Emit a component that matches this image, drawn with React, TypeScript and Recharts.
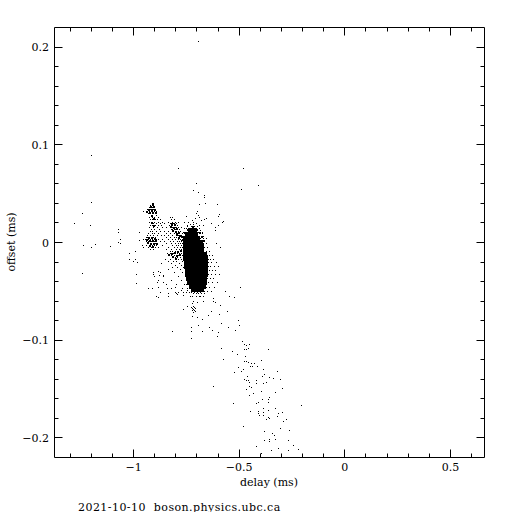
// Delay / offset scatter, boson.physics.ubc.ca
import { ScatterChart, Scatter, XAxis, YAxis } from 'recharts'

const FONT = '"DejaVu Serif", serif'

const majorX = [-1, -0.5, 0, 0.5]
const minorX = [-1.3, -1.2, -1.1, -0.9, -0.8, -0.7, -0.6, -0.4, -0.3, -0.2, -0.1, 0.1, 0.2, 0.3, 0.4, 0.6]
const majorY = [-0.2, -0.1, 0, 0.1, 0.2]
const minorY = [-0.18, -0.16, -0.14, -0.12, -0.08, -0.06, -0.04, -0.02, 0.02, 0.04, 0.06, 0.08, 0.12, 0.14, 0.16, 0.18]

const title = '2021-10-10  boson.physics.ubc.ca'

// solid middle of the blob: [offset, delays]
const coreRows: [number, number[]][] = [
  [0.0123, [-0.732, -0.713]],
  [0.0082, [-0.746, -0.727, -0.708]],
  [0.0041, [-0.756, -0.737, -0.718, -0.699]],
  [0, [-0.756, -0.737, -0.718, -0.699, -0.685]],
  [-0.0041, [-0.756, -0.737, -0.718, -0.699, -0.68]],
  [-0.0082, [-0.756, -0.737, -0.718, -0.699, -0.68]],
  [-0.0123, [-0.756, -0.737, -0.718, -0.699, -0.68, -0.666]],
  [-0.0164, [-0.756, -0.737, -0.718, -0.699, -0.68, -0.661]],
  [-0.0205, [-0.751, -0.732, -0.713, -0.694, -0.675, -0.661]],
  [-0.0246, [-0.751, -0.732, -0.713, -0.694, -0.675, -0.661]],
  [-0.0287, [-0.746, -0.727, -0.708, -0.69, -0.671, -0.661]],
  [-0.0328, [-0.746, -0.727, -0.708, -0.69, -0.671, -0.661]],
  [-0.0369, [-0.742, -0.723, -0.704, -0.685, -0.666]],
  [-0.041, [-0.737, -0.718, -0.699, -0.68, -0.666]],
  [-0.0451, [-0.727, -0.708, -0.69, -0.671]],
  [-0.0482, [-0.718, -0.699, -0.68]],
]

// tight clumps that read as solid patches: [delay, offset]
const clumpPoints: [number, number][] = [
  [-0.912, 0.04], [-0.922, 0.037], [-0.908, 0.037], [-0.931, 0.034], [-0.917, 0.034], [-0.903, 0.034],
  [-0.941, 0.032], [-0.926, 0.031], [-0.912, 0.031], [-0.898, 0.031], [-0.917, 0.028], [-0.908, 0.025],
  [-0.917, 0.021], [-0.908, 0.017],
  [-0.931, 0.005], [-0.917, 0.005], [-0.941, 0.003], [-0.926, 0.002], [-0.912, 0.002], [-0.898, 0.002],
  [-0.936, 0], [-0.922, -0.001], [-0.908, -0.001], [-0.893, -0.001], [-0.926, -0.003], [-0.912, -0.004],
  [-0.903, 0.004],
  [-0.822, 0.019], [-0.808, 0.018], [-0.827, 0.016], [-0.813, 0.015], [-0.798, 0.014], [-0.817, 0.012],
  [-0.803, 0.011], [-0.789, 0.01], [-0.798, 0.008], [-0.784, 0.007], [-0.789, 0.005], [-0.775, 0.006],
  [-0.836, -0.012], [-0.822, -0.011], [-0.808, -0.01], [-0.817, -0.014], [-0.798, -0.013], [-0.784, -0.012],
  [-0.794, -0.009], [-0.803, -0.016], [-0.78, -0.008],
  [-0.77, 0.006], [-0.761, 0.01], [-0.746, 0.013], [-0.723, 0.016], [-0.704, 0.013], [-0.69, 0.01],
  [-0.68, 0.006], [-0.671, 0.002],
]

// scattered samples around the blob, one row per offset: [offset, delays]
const clusterRows: [number, number[]][] = [
  [0.04, [-0.912]],
  [0.038, [-0.922, -0.912, -0.908]],
  [0.036, [-0.926, -0.917, -0.912, -0.903]],
  [0.034, [-0.936, -0.931, -0.922, -0.912, -0.908, -0.898]],
  [0.032, [-0.941, -0.936, -0.926, -0.917, -0.912, -0.903, -0.893]],
  [0.03, [-0.931, -0.922, -0.912, -0.908, -0.898]],
  [0.028, [-0.917, -0.912, -0.893]],
  [0.026, [-0.926, -0.912, -0.903, -0.884, -0.827, -0.817]],
  [0.024, [-0.922, -0.912, -0.898, -0.889, -0.874, -0.822, -0.808]],
  [0.021, [-0.926, -0.912, -0.903, -0.884, -0.865, -0.836, -0.817, -0.803, -0.789]],
  [0.019, [-0.917, -0.908, -0.893, -0.874, -0.855, -0.827, -0.822, -0.813, -0.808, -0.798]],
  [0.017, [-0.922, -0.912, -0.898, -0.884, -0.87, -0.832, -0.822, -0.817, -0.808, -0.803, -0.794]],
  [0.015, [-0.926, -0.908, -0.889, -0.865, -0.846, -0.827, -0.817, -0.813, -0.803, -0.798, -0.789, -0.775]],
  [0.013, [-0.917, -0.903, -0.879, -0.822, -0.817, -0.808, -0.803, -0.794, -0.784]],
  [0.011, [-0.922, -0.912, -0.893, -0.874, -0.855, -0.836, -0.813, -0.803, -0.798, -0.789, -0.78]],
  [0.009, [-0.931, -0.912, -0.903, -0.884, -0.846, -0.827, -0.808, -0.798, -0.794, -0.784, -0.77]],
  [0.007, [-0.936, -0.922, -0.908, -0.889, -0.87, -0.855, -0.836, -0.817, -0.794, -0.789, -0.78, -0.775]],
  [0.005, [-0.941, -0.936, -0.926, -0.917, -0.908, -0.898, -0.846, -0.827, -0.808, -0.798, -0.784, -0.775, -0.765]],
  [0.003, [-0.945, -0.936, -0.931, -0.922, -0.912, -0.903, -0.893, -0.884, -0.865, -0.836, -0.817, -0.803, -0.789, -0.78, -0.77]],
  [0.001, [-0.941, -0.931, -0.926, -0.917, -0.912, -0.903, -0.898, -0.874, -0.855, -0.827, -0.813, -0.794, -0.784, -0.775, -0.765]],
  [-0.001, [-0.936, -0.931, -0.922, -0.917, -0.908, -0.898, -0.889, -0.846, -0.822, -0.803, -0.789, -0.78, -0.77]],
  [-0.003, [-0.941, -0.926, -0.922, -0.912, -0.903, -0.893, -0.865, -0.817, -0.798, -0.789, -0.775, -0.765]],
  [-0.005, [-0.931, -0.917, -0.898, -0.884, -0.836, -0.808, -0.794, -0.78, -0.77]],
  [-0.007, [-0.922, -0.908, -0.846, -0.822, -0.798, -0.784, -0.775]],
  [-0.009, [-0.827, -0.817, -0.803, -0.789, -0.78, -0.765]],
  [-0.011, [-0.841, -0.827, -0.813, -0.803, -0.794, -0.784, -0.775]],
  [-0.013, [-0.836, -0.822, -0.808, -0.798, -0.789, -0.78, -0.77]],
  [-0.015, [-0.817, -0.803, -0.794, -0.78, -0.765]],
  [-0.017, [-0.851, -0.827, -0.789, -0.775]],
  [-0.019, [-0.836, -0.813, -0.798, -0.77]],
  [-0.022, [-0.87, -0.822, -0.784]],
  [-0.024, [-0.803, -0.775]],
  [-0.026, [-0.817, -0.794, -0.765]],
  [-0.028, [-0.836, -0.78]],
  [-0.031, [-0.874, -0.808, -0.77]],
  [-0.035, [-0.903, -0.86, -0.789]],
  [-0.039, [-0.884, -0.822, -0.775]],
  [-0.043, [-0.846, -0.798, -0.761, -0.751, -0.742]],
  [-0.047, [-0.912, -0.822, -0.77, -0.746, -0.737]],
  [-0.051, [-0.874, -0.789, -0.751, -0.737, -0.727, -0.713, -0.699, -0.685]],
  [-0.055, [-0.893, -0.836, -0.723, -0.704, -0.685]],
  // top and bottom fringe of the blob
  [0.018, [-0.732, -0.718]],
  [0.016, [-0.746, -0.727, -0.713, -0.699]],
  [0.014, [-0.761, -0.751, -0.742, -0.704, -0.69]],
  [0.01, [-0.765, -0.756, -0.694, -0.685, -0.675]],
  [0.006, [-0.77, -0.765, -0.69, -0.68, -0.671]],
  [0.002, [-0.775, -0.77, -0.675, -0.666]],
  [-0.052, [-0.718, -0.704, -0.694, -0.68, -0.666]],
  [-0.055, [-0.732, -0.69, -0.671]],
  // right edge of the blob
  [0.004, [-0.685, -0.671, -0.656]],
  [-0.001, [-0.671, -0.656, -0.609]],
  [-0.005, [-0.666, -0.652, -0.59]],
  [-0.009, [-0.656, -0.642]],
  [-0.013, [-0.652, -0.642, -0.628]],
  [-0.017, [-0.647, -0.637, -0.623]],
  [-0.021, [-0.647, -0.633, -0.609]],
  [-0.025, [-0.647, -0.637, -0.618, -0.599]],
  [-0.029, [-0.642, -0.628, -0.614]],
  [-0.033, [-0.647, -0.633, -0.614, -0.595]],
  [-0.037, [-0.652, -0.637, -0.623]],
  [-0.041, [-0.656, -0.647, -0.628, -0.604]],
  [-0.046, [-0.656, -0.642, -0.618, -0.495]],
  [-0.05, [-0.666, -0.652, -0.633, -0.566]],
]

const sparsePoints: [number, number][] = [
  // far left
  [-1.2, 0.089], [-1.201, 0.041], [-1.243, 0.03], [-1.282, 0.019], [-1.206, 0.017], [-1.073, 0.013],
  [-1.073, 0.01], [-1.064, 0.003], [-1.073, 0], [-1.064, -0.001], [-1.235, -0.003], [-1.197, -0.005],
  [-1.182, -0.002], [-1.111, -0.004], [-1.021, -0.011], [-0.993, -0.009], [-1.021, -0.017], [-1.002, -0.019],
  [-0.993, -0.017], [-0.983, -0.021], [-1.243, -0.032], [-0.986, -0.033], [-0.988, -0.042], [-0.974, 0.01],
  [-0.974, 0.002], [-0.955, 0.003], [-0.96, -0.003], [-0.955, -0.005], [-0.955, 0.032],
  [-0.908, -0.031], [-0.908, -0.033], [-0.884, -0.03], [-0.879, -0.034], [-0.86, -0.034], [-0.889, -0.041],
  [-0.86, -0.041], [-0.931, -0.047], [-0.884, -0.046], [-0.841, -0.047], [-0.836, -0.052], [-0.884, -0.056],
  [-0.803, -0.051], [-0.765, -0.051],
  // above the blob
  [-0.694, 0.206], [-0.789, 0.076], [-0.481, 0.076], [-0.491, 0.054], [-0.41, 0.058],
  [-0.702, 0.061], [-0.716, 0.053], [-0.693, 0.051], [-0.664, 0.048], [-0.664, 0.046], [-0.688, 0.039],
  [-0.66, 0.04], [-0.603, 0.039], [-0.697, 0.032], [-0.702, 0.03], [-0.693, 0.028], [-0.688, 0.026],
  [-0.707, 0.025], [-0.593, 0.029], [-0.598, 0.027], [-0.664, 0.024], [-0.655, 0.025], [-0.678, 0.023],
  [-0.574, 0.022], [-0.579, 0.02], [-0.598, 0.017], [-0.631, 0.019], [-0.612, 0.015], [-0.612, 0.012],
  [-0.75, 0.027], [-0.759, 0.021], [-0.74, 0.02], [-0.721, 0.023], [-0.716, 0.02], [-0.702, 0.019],
  [-0.745, 0.017], [-0.712, 0.016], [-0.688, 0.017], [-0.669, 0.017], [-0.683, 0.012], [-0.674, 0.009],
  // just under the blob
  [-0.816, -0.091], [-0.726, -0.087], [-0.726, -0.091], [-0.726, -0.098], [-0.693, -0.085], [-0.674, -0.079],
  [-0.674, -0.091], [-0.641, -0.087], [-0.626, -0.09], [-0.584, -0.083], [-0.551, -0.087], [-0.598, -0.092],
  [-0.603, -0.096], [-0.517, -0.09], [-0.503, -0.08], [-0.498, -0.085], [-0.555, -0.071], [-0.546, -0.055],
  [-0.522, -0.056], [-0.622, -0.06], [-0.622, -0.057], [-0.612, -0.062], [-0.588, -0.065], [-0.631, -0.071],
  [-0.645, -0.075], [-0.593, -0.074], [-0.764, -0.069], [-0.745, -0.066], [-0.721, -0.063], [-0.716, -0.06],
  [-0.697, -0.062], [-0.669, -0.061], [-0.721, -0.076], [-0.697, -0.077], [-0.792, -0.053], [-0.764, -0.054],
  [-0.745, -0.049], [-0.773, -0.049], [-0.802, -0.046], [-0.797, -0.052],
  [-0.726, -0.067], [-0.721, -0.068], [-0.716, -0.069], [-0.712, -0.067], [-0.707, -0.068], [-0.716, -0.066],
  [-0.712, -0.07], [-0.721, -0.07], [-0.707, -0.071], [-0.716, -0.072],
  // tail down to the right
  [-0.484, -0.102], [-0.475, -0.105], [-0.451, -0.105], [-0.465, -0.106], [-0.475, -0.11], [-0.465, -0.11],
  [-0.456, -0.109], [-0.361, -0.11], [-0.584, -0.109], [-0.532, -0.112], [-0.508, -0.115], [-0.47, -0.117],
  [-0.574, -0.12], [-0.475, -0.122], [-0.465, -0.122], [-0.456, -0.123], [-0.442, -0.124], [-0.427, -0.124],
  [-0.437, -0.127], [-0.446, -0.127], [-0.413, -0.127], [-0.394, -0.121], [-0.385, -0.13], [-0.503, -0.128],
  [-0.479, -0.13], [-0.489, -0.132], [-0.522, -0.133], [-0.318, -0.132], [-0.38, -0.135], [-0.389, -0.137],
  [-0.46, -0.137], [-0.356, -0.138], [-0.337, -0.139], [-0.304, -0.14], [-0.475, -0.141], [-0.465, -0.142],
  [-0.456, -0.142], [-0.451, -0.144], [-0.418, -0.142], [-0.418, -0.145], [-0.385, -0.145], [-0.37, -0.144],
  [-0.622, -0.148], [-0.451, -0.148], [-0.442, -0.149], [-0.465, -0.151], [-0.295, -0.15], [-0.394, -0.153],
  [-0.328, -0.154], [-0.432, -0.155], [-0.451, -0.157], [-0.356, -0.159], [-0.361, -0.161], [-0.389, -0.161],
  [-0.527, -0.165], [-0.408, -0.164], [-0.418, -0.165], [-0.361, -0.164], [-0.385, -0.17], [-0.328, -0.17],
  [-0.361, -0.172], [-0.446, -0.173], [-0.408, -0.173], [-0.408, -0.175], [-0.385, -0.174], [-0.295, -0.174],
  [-0.404, -0.177], [-0.385, -0.177], [-0.313, -0.175], [-0.318, -0.178], [-0.361, -0.179], [-0.356, -0.18],
  [-0.37, -0.182], [-0.276, -0.182], [-0.29, -0.184], [-0.204, -0.167], [-0.479, -0.189], [-0.304, -0.191],
  [-0.261, -0.193], [-0.38, -0.194], [-0.342, -0.196], [-0.332, -0.198], [-0.356, -0.202], [-0.38, -0.203],
  [-0.356, -0.204], [-0.328, -0.202], [-0.266, -0.203], [-0.418, -0.209], [-0.242, -0.208], [-0.313, -0.211],
  [-0.219, -0.212], [-0.347, -0.213], [-0.266, -0.213], [-0.394, -0.216],
]

const coreData = coreRows.flatMap(([offset, delays]) => delays.map((delay) => ({ delay, offset })))
const clumpData = clumpPoints.map(([delay, offset]) => ({ delay, offset }))
const pointData = [
  ...clusterRows.flatMap(([offset, delays]) => delays.map((delay) => ({ delay, offset }))),
  ...sparsePoints.map(([delay, offset]) => ({ delay, offset })),
]

const LEFT = 54.5
const RIGHT = 484.5
const TOP = 27.5
const BOTTOM = 457.5
const X_DOMAIN: [number, number] = [-1.3744, 0.661]
const Y_DOMAIN: [number, number] = [-0.2205, 0.2205]

const fmt = (v: number) => (v < 0 ? `\u2212${Math.abs(v)}` : `${v}`)
const isMajor = (list: number[], v: number) => list.includes(v)
const px = (v: number) => Math.floor(v) + 0.5

function BottomTick({ x, payload }: any) {
  const major = isMajor(majorX, payload.value)
  return (
    <g>
      <line x1={px(x)} x2={px(x)} y1={BOTTOM} y2={BOTTOM - (major ? 8 : 4)} stroke="#000" />
      {major && (
        <text x={x} y={471} textAnchor="middle" fontFamily={FONT} fontSize={11} fill="#000">
          {fmt(payload.value)}
        </text>
      )}
    </g>
  )
}

function TopTick({ x, payload }: any) {
  const major = isMajor(majorX, payload.value)
  return <line x1={px(x)} x2={px(x)} y1={TOP} y2={TOP + (major ? 8 : 4)} stroke="#000" />
}

function LeftTick({ y, payload }: any) {
  const major = isMajor(majorY, payload.value)
  return (
    <g>
      <line x1={LEFT} x2={LEFT + (major ? 8 : 4)} y1={px(y)} y2={px(y)} stroke="#000" />
      {major && (
        <text x={49} y={y + 4} textAnchor="end" fontFamily={FONT} fontSize={11} fill="#000">
          {fmt(payload.value)}
        </text>
      )}
    </g>
  )
}

function RightTick({ y, payload }: any) {
  const major = isMajor(majorY, payload.value)
  return <line x1={RIGHT} x2={RIGHT - (major ? 8 : 4)} y1={px(y)} y2={px(y)} stroke="#000" />
}

const Dot = ({ cx, cy }: any) => <rect x={Math.floor(cx)} y={Math.floor(cy)} width={1} height={1} fill="#000" />
const Clump = ({ cx, cy }: any) => <rect x={Math.floor(cx)} y={Math.floor(cy)} width={2} height={2} fill="#000" />
const Block = ({ cx, cy }: any) => <rect x={Math.floor(cx) - 2} y={Math.floor(cy) - 2} width={5} height={5} fill="#000" />

export default function App() {
  const ticksX = [...majorX, ...minorX].sort((a, b) => a - b)
  const ticksY = [...majorY, ...minorY].sort((a, b) => a - b)
  const axisProps = { type: 'number' as const, allowDataOverflow: true, interval: 0 as const, tickLine: false, tickSize: 0, tickMargin: 0 }
  return (
    <div style={{ position: 'absolute', left: 0, top: 0, width: 512, height: 512, overflow: 'hidden', background: '#fff' }}>
      <ScatterChart
        width={512}
        height={512}
        margin={{ left: LEFT - 1, right: 512 - RIGHT - 1, top: TOP - 1, bottom: 512 - BOTTOM - 1 }}
      >
        <XAxis {...axisProps} xAxisId="b" orientation="bottom" dataKey="delay" domain={X_DOMAIN} ticks={ticksX} height={1} stroke="#000" tick={BottomTick} />
        <XAxis {...axisProps} xAxisId="t" orientation="top" dataKey="delay" domain={X_DOMAIN} ticks={ticksX} height={1} stroke="#000" tick={TopTick} />
        <YAxis {...axisProps} yAxisId="l" orientation="left" dataKey="offset" domain={Y_DOMAIN} ticks={ticksY} width={1} stroke="#000" tick={LeftTick} />
        <YAxis {...axisProps} yAxisId="r" orientation="right" dataKey="offset" domain={Y_DOMAIN} ticks={ticksY} width={1} stroke="#000" tick={RightTick} />
        <Scatter xAxisId="b" yAxisId="l" data={coreData} shape={Block} isAnimationActive={false} />
        <Scatter xAxisId="b" yAxisId="l" data={clumpData} shape={Clump} isAnimationActive={false} />
        <Scatter xAxisId="b" yAxisId="l" data={pointData} shape={Dot} isAnimationActive={false} />
        <text x={269} y={486} textAnchor="middle" fontFamily={FONT} fontSize={11} fill="#000">delay (ms)</text>
        <text transform="translate(15 242) rotate(-90)" textAnchor="middle" fontFamily={FONT} fontSize={11} fill="#000">offset (ms)</text>
        <text x={78} y={511} fontFamily={FONT} fontSize={11} letterSpacing={0.45} style={{ whiteSpace: 'pre' }} fill="#000">{title}</text>
      </ScatterChart>
    </div>
  )
}
